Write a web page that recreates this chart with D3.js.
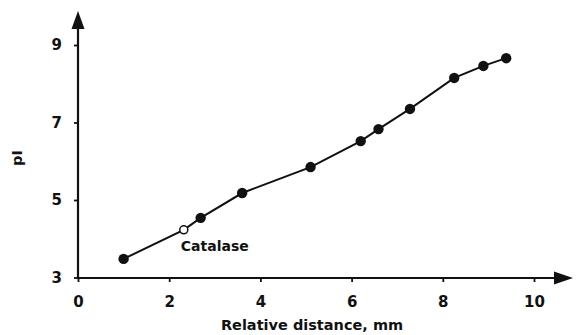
<!DOCTYPE html>
<html><head><meta charset="utf-8">
<script src="https://cdn.jsdelivr.net/npm/d3@7"></script>
<style>body{margin:0;background:#fff}svg{display:block}text{font-family:"DejaVu Sans",sans-serif;font-weight:bold;fill:#111}</style>
</head><body><svg id="c" width="576" height="335"></svg>
<script>
const distance = [1.0, 2.32, 2.69, 3.60, 5.10, 6.20, 6.59, 7.28, 8.25, 8.89, 9.39];
const pI       = [3.48, 4.23, 4.54, 5.18, 5.85, 6.52, 6.83, 7.35, 8.15, 8.46, 8.66];
const openPoint = [false, true, false, false, false, false, false, false, false, false, false];
const xTicks = [0, 2, 4, 6, 8, 10];
const yTicks = [3, 5, 7, 9];
const xTitle = "Relative distance, mm";
const yTitle = "pI";
const annotation = "Catalase";

const svg = d3.select("#c");
const x = d3.scaleLinear().domain([0, 10]).range([78, 534]);
const y = d3.scaleLinear().domain([3, 9]).range([277.5, 45]);
const data = distance.map((d, i) => ({x: d, y: pI[i], open: openPoint[i]}));

// axes
const xAxisY = 278;
svg.append("line").attr("x1", x(0)).attr("x2", 560).attr("y1", xAxisY).attr("y2", xAxisY)
  .attr("stroke", "#111").attr("stroke-width", 2.2);
svg.append("path").attr("d", `M573,${xAxisY} L554,${xAxisY-6.5} L554,${xAxisY+6.5} Z`).attr("fill", "#111");
svg.append("line").attr("x1", 78).attr("x2", 78).attr("y1", xAxisY + 1).attr("y2", 24)
  .attr("stroke", "#111").attr("stroke-width", 2.2);
svg.append("path").attr("d", `M78,11 L71.5,29 L84.5,29 Z`).attr("fill", "#111");

const gx = svg.append("g").attr("transform", `translate(0,${xAxisY})`)
  .call(d3.axisBottom(x).tickValues(xTicks).tickSize(4).tickPadding(14).tickFormat(d3.format("d")));
gx.select(".domain").remove();
gx.selectAll("line").attr("stroke", "#111").attr("stroke-width", 1.8);
gx.selectAll("text").attr("font-size", 15).attr("font-family", "DejaVu Sans").attr("fill", "#111");

const gy = svg.append("g").attr("transform", `translate(78,0)`)
  .call(d3.axisLeft(y).tickValues(yTicks).tickSize(4).tickPadding(12).tickFormat(d3.format("d")));
gy.select(".domain").remove();
gy.selectAll("line").attr("stroke", "#111").attr("stroke-width", 1.8);
gy.selectAll("text").attr("font-size", 15).attr("font-family", "DejaVu Sans").attr("fill", "#111");

// titles
svg.append("text").attr("x", 312).attr("y", 330).attr("text-anchor", "middle")
  .attr("font-size", 14.5).text(xTitle);
svg.append("text").attr("transform", "translate(22,158) rotate(-90)").attr("text-anchor", "middle")
  .attr("font-size", 14.5).text(yTitle);

// line
svg.append("path").datum(data)
  .attr("d", d3.line().x(d => x(d.x)).y(d => y(d.y)))
  .attr("fill", "none").attr("stroke", "#111").attr("stroke-width", 2);

svg.selectAll("circle").data(data).enter().append("circle")
  .attr("cx", d => x(d.x)).attr("cy", d => y(d.y))
  .attr("r", d => d.open ? 4 : 5.2)
  .attr("fill", d => d.open ? "#fff" : "#111")
  .attr("stroke", "#111").attr("stroke-width", d => d.open ? 1.5 : 0);

const cat = data[openPoint.indexOf(true)];
svg.append("text").attr("x", x(cat.x) - 3).attr("y", y(cat.y) + 21)
  .attr("font-size", 14).text(annotation);
</script></body></html>
